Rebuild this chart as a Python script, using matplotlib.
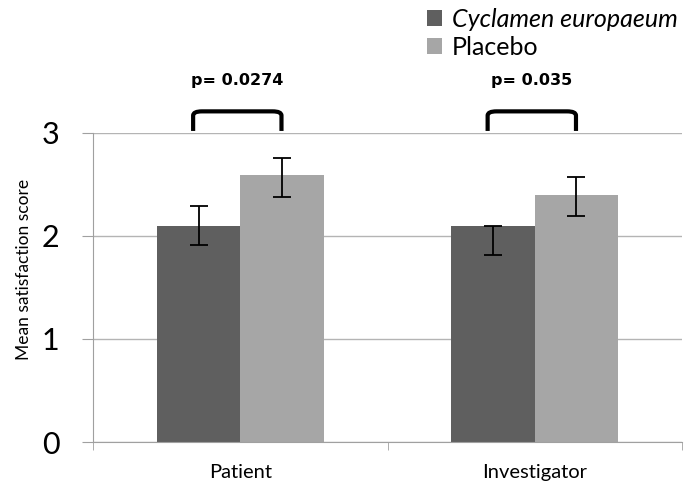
import numpy as np
import matplotlib
matplotlib.use("Agg")
import matplotlib.pyplot as plt
from matplotlib.path import Path
from matplotlib.patches import PathPatch

plt.rcParams['font.family'] = ['Lato', 'DejaVu Sans']

categories = ["Patient", "Investigator"]
series_names = ["Cyclamen europaeum", "Placebo"]
cyclamen = [2.1, 2.1]
placebo = [2.59, 2.4]
cyclamen_err_lo = [0.19, 0.28]
cyclamen_err_hi = [0.19, 0.0]
placebo_err_lo = [0.21, 0.21]
placebo_err_hi = [0.17, 0.17]
p_labels = ["p= 0.0274", "p= 0.035"]
yticks = [0, 1, 2, 3]

colors = ["#5f5f5f", "#a6a6a6"]

fig = plt.figure(figsize=(6.86, 4.84), dpi=100)
ax = fig.add_axes([93/686, 1-442/484, 589/686, (442-133)/484])

x = np.arange(len(categories))
w = 0.283
ax.bar(x - w/2, cyclamen, w, color=colors[0], label=series_names[0], zorder=2)
ax.bar(x + w/2, placebo, w, color=colors[1], label=series_names[1], zorder=2)
ax.errorbar(x - w/2, cyclamen, yerr=[cyclamen_err_lo, cyclamen_err_hi], fmt='none',
            ecolor='black', elinewidth=1.3, capsize=6.5, capthick=1.3, zorder=3)
ax.errorbar(x + w/2, placebo, yerr=[placebo_err_lo, placebo_err_hi], fmt='none',
            ecolor='black', elinewidth=1.3, capsize=6.5, capthick=1.3, zorder=3)

# significance brackets
for i, lab in enumerate(p_labels):
    x0, x1 = x[i] - 0.16, x[i] + 0.14
    y0, y1 = 3.02, 3.21
    r = 0.03
    verts = [(x0, y0), (x0, y1 - 0.04), (x0, y1), (x0 + r, y1),
             (x1 - r, y1), (x1, y1), (x1, y1 - 0.04), (x1, y0)]
    codes = [Path.MOVETO, Path.LINETO, Path.CURVE3, Path.CURVE3,
             Path.LINETO, Path.CURVE3, Path.CURVE3, Path.LINETO]
    ax.add_patch(PathPatch(Path(verts, codes), fill=False, lw=3, ec='black',
                           clip_on=False, capstyle='butt', joinstyle='round'))
    ax.text((x0 + x1) / 2, 3.51, lab, ha='center', va='center', fontsize=11.5,
            fontweight='bold', family='DejaVu Sans')

ax.set_xlim(-0.5, 1.5)
ax.set_ylim(0, 3)
ax.set_yticks(yticks)
ax.set_yticklabels([str(t) for t in yticks], fontsize=22)
ax.yaxis.grid(True, color='#b4b4b4', lw=1, zorder=0)
ax.set_axisbelow(True)
ax.set_xticks(x)
ax.set_xticklabels(categories, fontsize=14.5)
ax.set_xticks([-0.5, 0.5, 1.5], minor=True)
ax.tick_params(axis='x', which='major', length=0, pad=16)
ax.tick_params(axis='x', which='minor', length=6, color='#a0a0a0')
ax.tick_params(axis='y', length=8, color='#a0a0a0', pad=16)
ax.set_ylabel("Mean satisfaction score", fontsize=12.5)
ax.yaxis.set_label_coords(-0.104, 0.56)
for s in ['top', 'right']:
    ax.spines[s].set_visible(False)
for s in ['left', 'bottom']:
    ax.spines[s].set_color('#a0a0a0')

leg = fig.legend(loc='upper left', bbox_to_anchor=(414/686, 1.01), frameon=False,
                 fontsize=18, handlelength=0.6, handleheight=0.6,
                 handletextpad=0.4, labelspacing=0.2, borderaxespad=0.1)
leg.get_texts()[0].set_style('italic')

fig.savefig("out.png", dpi=100)
